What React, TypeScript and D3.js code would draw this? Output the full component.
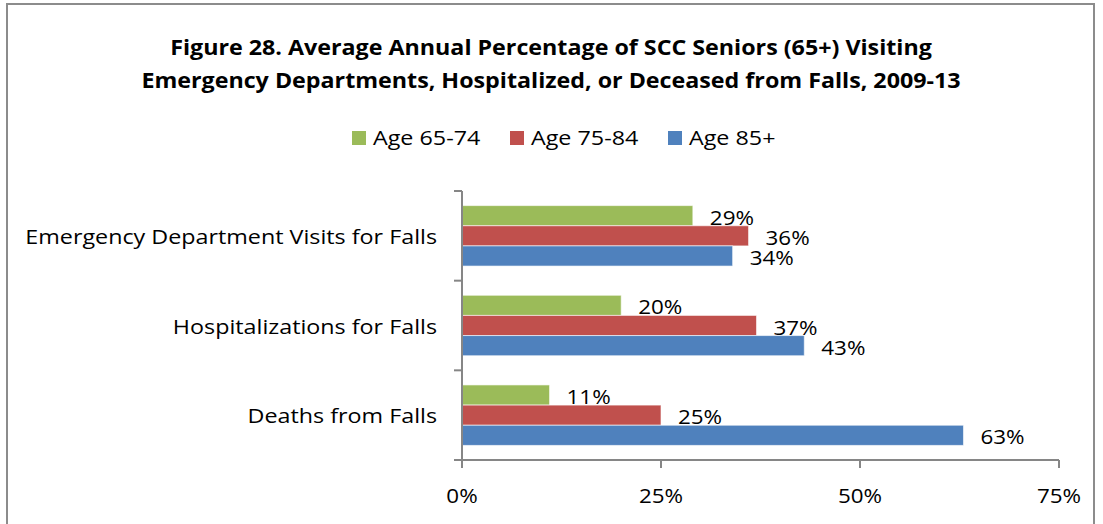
import React from "react";
import * as d3 from "d3";

const categories = ["Emergency Department Visits for Falls", "Hospitalizations for Falls", "Deaths from Falls"];
const seriesNames = ["Age 65-74", "Age 75-84", "Age 85+"];
const seriesColors = ["#9BBB59", "#C0504D", "#4F81BD"];
const age6574 = [29, 20, 11];
const age7584 = [36, 37, 25];
const age85 = [34, 43, 63];
const xTicks = [0, 25, 50, 75];
const titleLines = [
  "Figure 28. Average Annual Percentage of SCC Seniors (65+) Visiting",
  "Emergency Departments, Hospitalized, or Deceased from Falls, 2009-13",
];

const series = [age6574, age7584, age85];
const FONT = "'Open Sans', sans-serif";

function T(props: { x: number; y: number; sx: number; anchor?: string; bold?: boolean; size?: number; children: React.ReactNode }) {
  const { x, y, sx, anchor = "start", bold = false, size = 20, children } = props;
  return (
    <text
      transform={`translate(${x},${y}) scale(${sx},1)`}
      textAnchor={anchor}
      fontFamily={FONT}
      fontWeight={bold ? "bold" : "normal"}
      fontSize={size}
      fill="#000"
    >
      {children}
    </text>
  );
}

export default function App() {
  const W = 1103, H = 524;
  const left = 462, right = 1059, top = 191, bottom = 460;
  const x = d3.scaleLinear().domain([0, 75]).range([left, right]);
  const y = d3.scaleBand().domain(categories).range([top, bottom]).paddingInner(0).paddingOuter(0);
  const bandH = y.bandwidth();
  const inner = d3.scaleBand().domain(seriesNames).range([0, bandH]).paddingInner(0).paddingOuter(0.725);
  const axisColor = "#868686";
  const legendX = [352, 510, 668];
  const SX = 1.165;
  const SXN = 1.12;

  return (
    <svg width={W} height={H} style={{ position: "absolute", left: 0, top: 0, background: "#fff" }}>
      <rect x={7} y={4} width={1087} height={530} fill="#fff" stroke="#8c8c8c" strokeWidth={2} />
      {titleLines.map((t, i) => (
        <T key={i} x={551} y={55 + i * 33} sx={1.135} anchor="middle" bold size={20.5}>
          {t}
        </T>
      ))}
      {seriesNames.map((s, i) => (
        <g key={s}>
          <rect x={legendX[i]} y={131} width={14} height={14} fill={seriesColors[i]} />
          <T x={legendX[i] + 21} y={145} sx={SX}>{s}</T>
        </g>
      ))}
      {categories.map((c, ci) => (
        <g key={c}>
          {series.map((vals, si) => {
            const by = (y(c) as number) + (inner(seriesNames[si]) as number);
            const bh = inner.bandwidth();
            return (
              <g key={si}>
                <rect x={x(0)} y={by} width={x(vals[ci]) - x(0)} height={bh} fill={seriesColors[si]} stroke="#fff" strokeOpacity={0.6} strokeWidth={1} />
                <T x={x(vals[ci]) + 17} y={by + bh / 2 + 9} sx={SXN}>{vals[ci]}%</T>
              </g>
            );
          })}
          <T x={437} y={(y(c) as number) + bandH / 2 + 8} sx={SX} anchor="end">{c}</T>
        </g>
      ))}
      <line x1={left} x2={left} y1={top} y2={bottom} stroke={axisColor} strokeWidth={2} />
      {[...categories.map((c) => y(c) as number), bottom].map((v, i) => (
        <line key={i} x1={left - 8} x2={left} y1={v} y2={v} stroke={axisColor} strokeWidth={2} />
      ))}
      <line x1={left} x2={right} y1={bottom} y2={bottom} stroke={axisColor} strokeWidth={2} />
      {xTicks.map((t) => (
        <g key={t}>
          <line x1={x(t)} x2={x(t)} y1={bottom} y2={bottom + 8} stroke={axisColor} strokeWidth={2} />
          <T x={x(t)} y={503} sx={SXN} anchor="middle">{t}%</T>
        </g>
      ))}
    </svg>
  );
}
